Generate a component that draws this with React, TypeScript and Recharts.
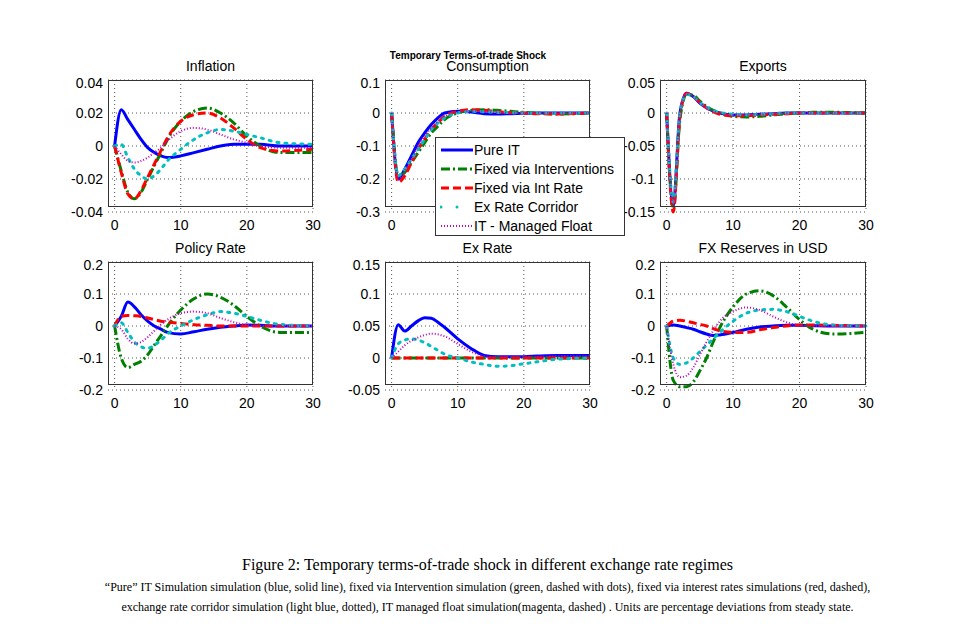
import { LineChart, Line, XAxis, YAxis, CartesianGrid } from 'recharts';

const periods = [0, 1, 2, 3, 4, 5, 6, 7, 8, 10, 12, 14, 16, 18, 20, 22, 25, 30];
const xTicks = [0, 10, 20, 30];

const inflationPure = [0, 0.022, 0.016, 0.01, 0.004, -0.001, -0.004, -0.006, -0.007, -0.006, -0.004, -0.002, 0, 0.001, 0.001, 0.001, 0, 0];
const inflationFixInt = [0, -0.015, -0.028, -0.032, -0.028, -0.02, -0.012, -0.004, 0.004, 0.015, 0.021, 0.023, 0.02, 0.014, 0.006, 0, -0.004, -0.004];
const inflationFixRate = [0, -0.016, -0.029, -0.032, -0.027, -0.019, -0.011, -0.003, 0.005, 0.015, 0.019, 0.02, 0.017, 0.011, 0.004, -0.001, -0.003, -0.002];
const inflationCorridor = [0, 0.001, -0.007, -0.014, -0.018, -0.02, -0.018, -0.014, -0.009, -0.002, 0.004, 0.008, 0.01, 0.009, 0.007, 0.005, 0.002, 0.001];
const inflationManaged = [0, -0.005, -0.009, -0.01, -0.009, -0.007, -0.004, -0.001, 0.003, 0.009, 0.011, 0.01, 0.007, 0.004, 0.002, 0, -0.001, -0.001];

const consPure = [0, -0.2, -0.17, -0.13, -0.09, -0.06, -0.035, -0.015, 0, 0.005, 0.003, -0.002, -0.003, -0.002, -0.001, 0, 0, 0];
const consFixInt = [0, -0.19, -0.18, -0.15, -0.12, -0.09, -0.06, -0.04, -0.02, 0, 0.008, 0.01, 0.008, 0.005, 0.002, 0, -0.003, 0];
const consFixRate = [0, -0.21, -0.19, -0.15, -0.11, -0.08, -0.05, -0.03, -0.01, 0.005, 0.01, 0.008, 0.004, 0.001, 0, -0.002, -0.003, 0];
const consCorridor = [0, -0.19, -0.17, -0.14, -0.11, -0.08, -0.05, -0.03, -0.015, 0, 0.005, 0.004, 0.002, 0.001, 0, 0, 0, 0];
const consManaged = [0, -0.2, -0.175, -0.14, -0.1, -0.07, -0.045, -0.025, -0.01, 0.003, 0.006, 0.004, 0.002, 0, 0, 0, 0, 0];

const expPure = [0, -0.14, 0, 0.03, 0.025, 0.015, 0.008, 0.003, 0, -0.003, -0.003, -0.002, -0.001, 0, 0, 0, 0, 0];
const expFixInt = [0, -0.145, -0.01, 0.028, 0.027, 0.018, 0.01, 0.004, 0, -0.005, -0.006, -0.005, -0.003, -0.001, 0, 0.001, 0.001, 0];
const expFixRate = [0, -0.15, -0.005, 0.03, 0.025, 0.016, 0.008, 0.002, -0.002, -0.004, -0.004, -0.003, -0.002, -0.001, 0, 0, 0, 0];
const expCorridor = [0, -0.135, 0, 0.028, 0.025, 0.016, 0.009, 0.004, 0.001, -0.002, -0.003, -0.002, -0.001, 0, 0, 0, 0, 0];
const expManaged = [0, -0.14, -0.002, 0.029, 0.025, 0.016, 0.008, 0.003, 0, -0.003, -0.003, -0.002, -0.001, 0, 0, 0, 0, 0];

const rateP = [0, 0.03, 0.075, 0.06, 0.035, 0.015, 0, -0.01, -0.02, -0.025, -0.018, -0.01, -0.004, 0, 0.003, 0.002, 0, 0];
const rateFixInt = [0, -0.1, -0.13, -0.12, -0.11, -0.09, -0.06, -0.03, 0, 0.05, 0.085, 0.1, 0.09, 0.065, 0.03, 0, -0.02, -0.02];
const rateFixRate = [0, 0.03, 0.033, 0.032, 0.03, 0.025, 0.02, 0.015, 0.012, 0.008, 0.004, 0.002, 0, 0, 0, 0, 0, 0];
const rateCorridor = [0, 0.01, -0.02, -0.05, -0.065, -0.07, -0.06, -0.045, -0.025, 0, 0.02, 0.035, 0.045, 0.04, 0.03, 0.018, 0.005, 0];
const rateManaged = [0, -0.01, -0.04, -0.055, -0.05, -0.035, -0.015, 0.005, 0.02, 0.04, 0.045, 0.04, 0.025, 0.012, 0.003, 0, 0, 0];

const fxPure = [0, 0.052, 0.042, 0.05, 0.058, 0.063, 0.062, 0.056, 0.048, 0.03, 0.015, 0.004, 0.002, 0.002, 0.002, 0.003, 0.004, 0.004];
const fxFixInt = [0, 0, 0, 0, 0, 0, 0, 0, 0, 0, 0, 0, 0, 0, 0, 0, 0, 0];
const fxFixRate = [0, 0, 0, 0, 0, 0, 0, 0, 0, 0, 0, 0, 0, 0, 0, 0, 0, 0];
const fxCorridor = [0, 0.022, 0.028, 0.03, 0.028, 0.024, 0.018, 0.012, 0.006, 0, -0.006, -0.01, -0.013, -0.012, -0.009, -0.006, -0.002, 0];
const fxManaged = [0, 0.01, 0.02, 0.027, 0.032, 0.036, 0.038, 0.037, 0.034, 0.022, 0.01, 0.003, 0.001, 0.002, 0.002, 0.002, 0.003, 0.003];

const resPure = [0, 0.003, 0, -0.005, -0.01, -0.018, -0.025, -0.03, -0.028, -0.02, -0.01, -0.003, 0, 0.002, 0.002, 0.001, 0, 0];
const resFixInt = [0, -0.17, -0.19, -0.19, -0.175, -0.14, -0.1, -0.05, -0.005, 0.06, 0.1, 0.11, 0.095, 0.06, 0.02, -0.01, -0.025, -0.02];
const resFixRate = [0, 0.015, 0.018, 0.015, 0.01, 0.005, 0, -0.008, -0.015, -0.02, -0.02, -0.012, -0.005, 0, 0.003, 0.003, 0.002, 0];
const resCorridor = [0, -0.1, -0.12, -0.115, -0.1, -0.08, -0.06, -0.04, -0.02, 0.015, 0.04, 0.05, 0.052, 0.045, 0.03, 0.015, 0.003, 0];
const resManaged = [0, -0.12, -0.16, -0.155, -0.13, -0.09, -0.05, -0.015, 0.015, 0.045, 0.058, 0.05, 0.03, 0.012, 0.002, 0, 0, 0];

const seriesStyles = [
  { key: 'pure', name: 'Pure IT', color: '#0000ff', dash: undefined as string | undefined, width: 3 },
  { key: 'fixInt', name: 'Fixed via Interventions', color: '#007f00', dash: '9 3 2 3', width: 3 },
  { key: 'fixRate', name: 'Fixed via Int Rate', color: '#ff0000', dash: '8 4', width: 3 },
  { key: 'corridor', name: 'Ex Rate Corridor', color: '#00bfbf', dash: '2 6', width: 3 },
  { key: 'managed', name: 'IT - Managed Float', color: '#bf00bf', dash: '1 2', width: 2 },
];

const panels = [
  { title: 'Inflation', yTicks: [-0.04, -0.02, 0, 0.02, 0.04], s: [inflationPure, inflationFixInt, inflationFixRate, inflationCorridor, inflationManaged], x: 108, y: 80, w: 205, h: 127 },
  { title: 'Consumption', yTicks: [-0.3, -0.2, -0.1, 0, 0.1], s: [consPure, consFixInt, consFixRate, consCorridor, consManaged], x: 385, y: 80, w: 205, h: 127 },
  { title: 'Exports', yTicks: [-0.15, -0.1, -0.05, 0, 0.05], s: [expPure, expFixInt, expFixRate, expCorridor, expManaged], x: 660, y: 80, w: 206, h: 127 },
  { title: 'Policy Rate', yTicks: [-0.2, -0.1, 0, 0.1, 0.2], s: [rateP, rateFixInt, rateFixRate, rateCorridor, rateManaged], x: 108, y: 262, w: 205, h: 123 },
  { title: 'Ex Rate', yTicks: [-0.05, 0, 0.05, 0.1, 0.15], s: [fxPure, fxFixInt, fxFixRate, fxCorridor, fxManaged], x: 385, y: 262, w: 205, h: 123 },
  { title: 'FX Reserves in USD', yTicks: [-0.2, -0.1, 0, 0.1, 0.2], s: [resPure, resFixInt, resFixRate, resCorridor, resManaged], x: 660, y: 262, w: 206, h: 123 },
];

const font = 'Arial, "Liberation Sans", sans-serif';

function Panel({ p }: { p: (typeof panels)[number] }) {
  const data = periods.map((t, i) => {
    const row: Record<string, number> = { t };
    seriesStyles.forEach((st, k) => (row[st.key] = p.s[k][i]));
    return row;
  });
  const left = 50;
  const bottom = 25;
  return (
    <>
      <div style={{ position: 'absolute', left: p.x, top: p.y - 22, width: p.w, textAlign: 'center', fontFamily: font, fontSize: 14 }}>{p.title}</div>
      <div style={{ position: 'absolute', left: p.x - left, top: p.y - 5 }}>
        <LineChart width={p.w + left + 10} height={p.h + bottom + 10} data={data} margin={{ top: 5, right: 10, left: 0, bottom: 0 }}>
          <CartesianGrid stroke="#555" strokeDasharray="1 3" horizontalValues={p.yTicks} verticalValues={xTicks} />
          <XAxis dataKey="t" type="number" domain={[-1, 30]} ticks={xTicks} height={bottom} tickSize={0} tickMargin={8} axisLine={false} tick={{ fill: '#000', fontSize: 14, fontFamily: font }} />
          <YAxis type="number" domain={[p.yTicks[0], p.yTicks[p.yTicks.length - 1]]} ticks={p.yTicks} width={left} tickSize={0} tickMargin={5} axisLine={false} tick={{ fill: '#000', fontSize: 14, fontFamily: font }} tickFormatter={(v: number) => String(v)} />
          {seriesStyles.map((st) => (
            <Line key={st.key} dataKey={st.key} type="monotone" stroke={st.color} strokeWidth={st.width} strokeDasharray={st.dash} strokeLinecap={st.key === 'corridor' ? 'round' : 'butt'} dot={false} isAnimationActive={false} />
          ))}
        </LineChart>
      </div>
      <div style={{ position: 'absolute', left: p.x, top: p.y, width: p.w, height: p.h, border: '1px solid #333', boxSizing: 'border-box', pointerEvents: 'none' }} />
    </>
  );
}

export default function App() {
  return (
    <div style={{ position: 'absolute', left: 0, top: 0, width: 975, height: 631, background: '#fff' }}>
      <div style={{ position: 'absolute', left: 388, top: 50, width: 160, textAlign: 'center', fontFamily: font, fontSize: 10, fontWeight: 'bold' }}>Temporary Terms-of-trade Shock</div>
      {panels.map((p) => <Panel key={p.title} p={p} />)}
      <div style={{ position: 'absolute', left: 435, top: 137, width: 190, height: 99, border: '1px solid #333', background: '#fff', boxSizing: 'border-box', fontFamily: font, fontSize: 14, padding: '2px 0 0 4px' }}>
        {seriesStyles.map((st) => (
          <div key={st.key} style={{ display: 'flex', alignItems: 'center', height: 19 }}>
            <svg width={34} height={10}>
              <line x1={1} y1={5} x2={33} y2={5} stroke={st.color} strokeWidth={st.width} strokeDasharray={st.key === 'corridor' ? '0 34' : st.dash} strokeLinecap={st.key === 'corridor' ? 'round' : 'butt'} />
              {st.key === 'corridor' && <circle cx={17} cy={5} r={1.5} fill={st.color} />}
            </svg>
            <span>{st.name}</span>
          </div>
        ))}
      </div>
      <div style={{ position: 'absolute', left: 0, top: 556, width: 975, textAlign: 'center', fontFamily: '"Liberation Serif", serif', fontSize: 16 }}>Figure 2: Temporary terms-of-trade shock in different exchange rate regimes</div>
      <div style={{ position: 'absolute', left: 0, top: 577, width: 975, textAlign: 'center', fontFamily: '"Liberation Serif", serif', fontSize: 12, lineHeight: '20px' }}>
        “Pure” IT Simulation simulation (blue, solid line), fixed via Intervention simulation (green, dashed with dots), fixed via interest rates simulations (red, dashed),<br />
        exchange rate corridor simulation (light blue, dotted), IT managed float simulation(magenta, dashed) . Units are percentage deviations from steady state.
      </div>
    </div>
  );
}
